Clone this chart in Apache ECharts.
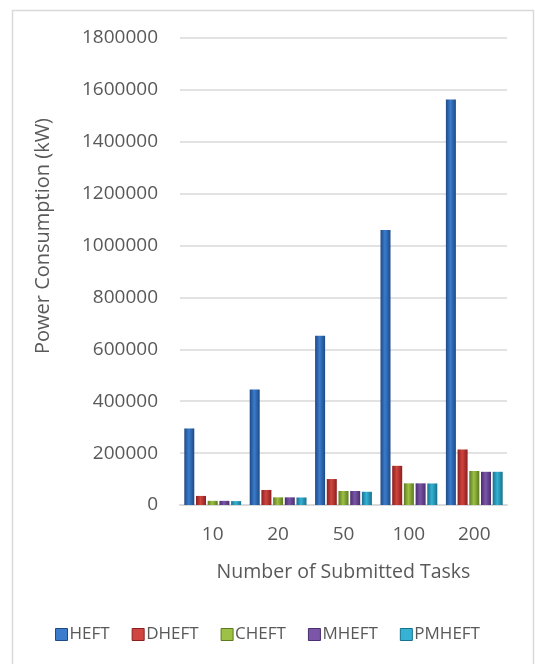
<!DOCTYPE html>
<html>
<head>
<meta charset="utf-8">
<script src="https://cdn.jsdelivr.net/npm/echarts@6/dist/echarts.min.js"></script>
<style>
html,body{margin:0;padding:0;background:#fff;}
#c{width:535px;height:664px;}
</style>
</head>
<body>
<div id="c"></div>
<script>
const categories = ['10', '20', '50', '100', '200'];
const seriesNames = ['HEFT', 'DHEFT', 'CHEFT', 'MHEFT', 'PMHEFT'];
const HEFT = [295000, 445000, 652000, 1060000, 1563000];
const DHEFT = [35000, 58000, 100000, 151000, 214000];
const CHEFT = [16000, 29500, 54000, 83500, 131000];
const MHEFT = [16000, 29500, 54000, 83500, 128000];
const PMHEFT = [15000, 29000, 51000, 83000, 128000];
const yTicks = { min: 0, max: 1800000, interval: 200000 };
const yTitle = 'Power Consumption (kW)';
const xTitle = 'Number of Submitted Tasks';

const palette = [
  ['#1d4a86', '#3b7ccc', '#1d4a86'],
  ['#8a1f1f', '#d0453f', '#8a1f1f'],
  ['#5c7a20', '#9dc046', '#5c7a20'],
  ['#4a2e6e', '#7b56a8', '#4a2e6e'],
  ['#17708e', '#35b2d4', '#17708e']
];
function grad(c) {
  return new echarts.graphic.LinearGradient(0, 0, 1, 0, [
    { offset: 0, color: c[0] },
    { offset: 0.45, color: c[1] },
    { offset: 1, color: c[2] }
  ]);
}
const values = [HEFT, DHEFT, CHEFT, MHEFT, PMHEFT];
const font = 'Open Sans';
const chart = echarts.init(document.getElementById('c'), null, { renderer: 'canvas' });
chart.setOption({
  animation: false,
  backgroundColor: '#ffffff',
  graphic: [{
    type: 'rect',
    shape: { x: 12.5, y: 10.5, width: 521, height: 680 },
    style: { fill: 'none', stroke: '#d9d9d9', lineWidth: 1.5 },
    silent: true
  }, {
    type: 'text',
    x: 43, y: 236,
    rotation: Math.PI / 2,
    style: { text: yTitle, fontFamily: font, fontSize: 20, fill: '#595959', textAlign: 'center', textVerticalAlign: 'middle' },
    silent: true
  }],
  grid: { left: 180, right: 28, top: 38, bottom: 159, containLabel: false, outerBoundsMode: 'none' },
  legend: {
    data: seriesNames.map((n, i) => ({ name: n, itemStyle: { color: palette[i][1], borderColor: palette[i][0], borderWidth: 1 } })),
    bottom: 16,
    left: 'center',
    icon: 'rect',
    itemWidth: 12,
    itemHeight: 12,
    itemGap: 22,
    textStyle: { fontFamily: font, fontSize: 17, color: '#595959', padding: [0, 0, 0, -3] }
  },
  xAxis: {
    type: 'category',
    data: categories,
    name: xTitle,
    nameLocation: 'middle',
    nameGap: 57,
    nameTextStyle: { fontFamily: font, fontSize: 19.5, color: '#595959' },
    axisLine: { show: true, lineStyle: { color: '#d9d9d9', width: 2 } },
    axisTick: { show: false },
    axisLabel: { fontFamily: font, fontSize: 19, color: '#595959', margin: 20 }
  },
  yAxis: {
    type: 'value',
    min: yTicks.min,
    max: yTicks.max,
    interval: yTicks.interval,
    axisLine: { show: false },
    axisTick: { show: false },
    splitLine: { lineStyle: { color: '#d9d9d9', width: 1.5 } },
    axisLabel: { fontFamily: font, fontSize: 19, color: '#595959', margin: 22, formatter: v => String(v) }
  },
  series: seriesNames.map((n, i) => ({
    name: n,
    type: 'bar',
    data: values[i],
    barWidth: 10,
    barGap: '17%',
    itemStyle: { color: grad(palette[i]) }
  }))
});
</script>
</body>
</html>
